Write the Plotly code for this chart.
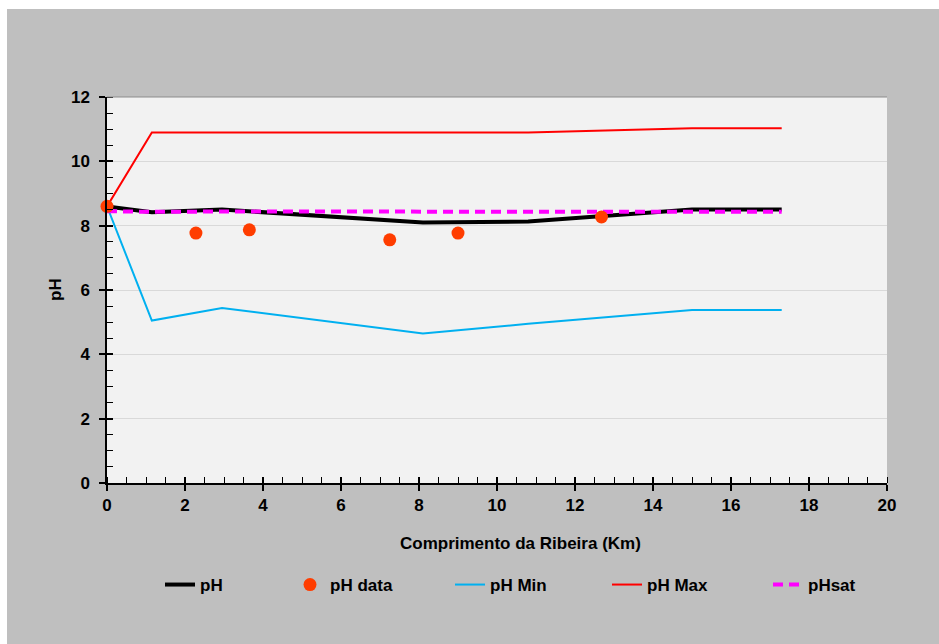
import plotly.graph_objects as go

# Distance along the stream (km) where the model profile is evaluated
dist_km = [0, 1.15, 2.95, 8.1, 10.8, 15.0, 17.3]
ph_model = [8.6, 8.42, 8.5, 8.1, 8.13, 8.5, 8.5]
ph_min = [8.6, 5.05, 5.44, 4.65, 4.95, 5.38, 5.38]
ph_max = [8.6, 10.9, 10.9, 10.9, 10.9, 11.03, 11.03]
ph_sat = [8.45, 8.43, 8.44, 8.43, 8.43, 8.43, 8.43]

# Field measurements
obs_km = [0, 2.28, 3.65, 7.25, 9.0, 12.68]
obs_ph = [8.6, 7.77, 7.87, 7.56, 7.77, 8.27]

x_ticks = [0, 2, 4, 6, 8, 10, 12, 14, 16, 18, 20]
y_ticks = [0, 2, 4, 6, 8, 10, 12]

FONT = "Liberation Sans, Arial, sans-serif"
BG = "#bfbfbf"
FS = 17

fig = go.Figure()

fig.add_trace(go.Scatter(x=dist_km, y=ph_min, mode="lines", name="pH Min",
                         line=dict(color="#00b0f0", width=2), legend="legend3"))
fig.add_trace(go.Scatter(x=dist_km, y=ph_max, mode="lines", name="pH Max",
                         line=dict(color="#ff0000", width=2), legend="legend4"))
fig.add_trace(go.Scatter(x=dist_km, y=ph_model, mode="lines", name="pH",
                         line=dict(color="#000000", width=4), legend="legend"))
fig.add_trace(go.Scatter(x=dist_km, y=ph_sat, mode="lines", name="pHsat",
                         line=dict(color="#ff00ff", width=4, dash="10px,6px"),
                         legend="legend5"))
fig.add_trace(go.Scatter(x=obs_km, y=obs_ph, mode="markers", name="pH data",
                         marker=dict(color="#ff3d00", size=13, line=dict(width=0)),
                         cliponaxis=False, legend="legend2"))

# Empty trace that carries the overlay axes used for the inner half of major ticks
fig.add_trace(go.Scatter(x=[], y=[], xaxis="x2", yaxis="y2", showlegend=False,
                         hoverinfo="skip"))

tickfont = dict(family=FONT, size=FS, color="#000000", weight="bold")

fig.update_layout(
    width=939, height=644,
    margin=dict(l=107, r=52, t=97, b=161),
    paper_bgcolor=BG,
    plot_bgcolor="#f2f2f2",
    showlegend=True,
    font=dict(family=FONT, size=FS, color="#000000"),
    xaxis=dict(
        range=[0, 20], tickvals=x_ticks, ticktext=[str(v) for v in x_ticks],
        showgrid=False, zeroline=False,
        showline=True, linecolor="#000000", linewidth=1.5,
        ticks="outside", ticklen=6, tickwidth=1.5, tickcolor="#000000",
        minor=dict(ticks="inside", dtick=0.5, ticklen=6, tickwidth=1.2,
                   tickcolor="#000000", showgrid=False),
        tickfont=tickfont, fixedrange=True,
    ),
    yaxis=dict(
        range=[0, 12], tickvals=y_ticks, ticktext=[str(v) for v in y_ticks],
        showgrid=True, gridcolor="#d9d9d9", gridwidth=1, zeroline=False,
        showline=True, linecolor="#000000", linewidth=1.5,
        ticks="outside", ticklen=6, tickwidth=1.5, tickcolor="#000000",
        ticklabelstandoff=6,
        minor=dict(ticks="inside", dtick=0.5, ticklen=6, tickwidth=1.2,
                   tickcolor="#000000", showgrid=False),
        tickfont=tickfont, fixedrange=True,
    ),
    xaxis2=dict(range=[0, 20], overlaying="x", anchor="y2", tickvals=x_ticks,
                ticks="inside", ticklen=6, tickwidth=1.5, tickcolor="#000000",
                showticklabels=False, showgrid=False, zeroline=False, showline=False),
    yaxis2=dict(range=[0, 12], overlaying="y", anchor="x2", side="left", tickvals=y_ticks,
                ticks="inside", ticklen=6, tickwidth=1.5, tickcolor="#000000",
                showticklabels=False, showgrid=False, zeroline=False, showline=False),
)

# One legend per series so each entry sits at its own spot along the bottom row
legend_style = dict(orientation="h", yanchor="middle", xanchor="left", visible=True,
                    bgcolor="rgba(0,0,0,0)", borderwidth=0,
                    font=dict(family=FONT, size=FS, color="#000000", weight="bold"))
legend_x = {"legend": 160, "legend2": 290, "legend3": 450, "legend4": 607, "legend5": 768}
for name, px in legend_x.items():
    fig.update_layout({name: dict(legend_style, x=(px - 107) / 780, y=(483 - 585) / 386)})

# Axis titles
fig.add_annotation(text="<b>Comprimento da Ribeira (Km)</b>", xref="paper", yref="paper",
                   x=(520 - 107) / 780, y=(483 - 543) / 386, showarrow=False,
                   xanchor="center", yanchor="middle",
                   font=dict(family=FONT, size=FS, color="#000000"))
fig.add_annotation(text="<b>pH</b>", xref="paper", yref="paper",
                   x=(55 - 107) / 780, y=0.5, showarrow=False, textangle=-90,
                   xanchor="center", yanchor="middle",
                   font=dict(family=FONT, size=FS, color="#000000"))

# White page margin around the grey chart area, and the darker top edge of the plot
fig.add_shape(type="rect", xref="paper", yref="paper", layer="above",
              x0=-107 / 780, x1=(7 - 107) / 780, y0=-161 / 386, y1=483 / 386,
              fillcolor="#ffffff", line=dict(width=0))
fig.add_shape(type="rect", xref="paper", yref="paper", layer="above",
              x0=-107 / 780, x1=(939 - 107) / 780, y0=(483 - 9) / 386, y1=483 / 386,
              fillcolor="#ffffff", line=dict(width=0))
fig.add_shape(type="line", xref="paper", yref="paper", layer="above",
              x0=0, x1=1, y0=1, y1=1, line=dict(color="#8c8c8c", width=1.2))

fig.write_html("out.html", config=dict(displayModeBar=False))
